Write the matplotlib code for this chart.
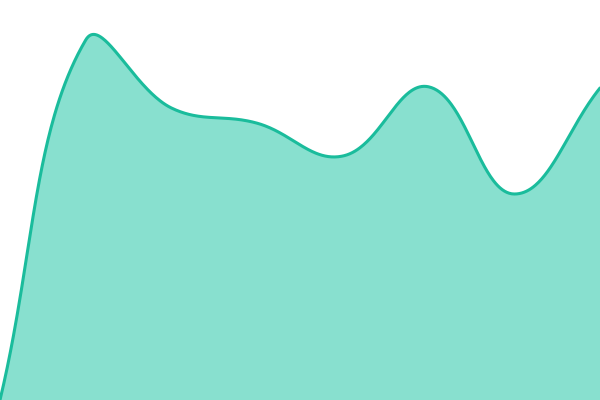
import matplotlib
matplotlib.use("Agg")
import matplotlib.pyplot as plt
import numpy as np

# values (y axis 0..100)
xs = [0, 1, 2, 3, 4, 5, 6, 7]
values = [0, 90.0, 73.0, 69.2, 61.0, 78.3, 51.5, 78.0]

LINE = "#1abc9c"
FILL = "#88e0cf"
TENSION = 0.4


def spline_points(pts, tension=TENSION, n=80):
    # distance-weighted cardinal spline, done in pixel space
    pts = np.asarray(pts, float)
    k = len(pts)
    ctrl_prev = np.zeros_like(pts)
    ctrl_next = np.zeros_like(pts)
    for i in range(k):
        p0 = pts[max(i - 1, 0)]
        p1 = pts[i]
        p2 = pts[min(i + 1, k - 1)]
        d01 = np.hypot(*(p1 - p0))
        d12 = np.hypot(*(p2 - p1))
        s01 = d01 / (d01 + d12) if d01 + d12 else 0
        s12 = d12 / (d01 + d12) if d01 + d12 else 0
        ctrl_prev[i] = p1 - tension * s01 * (p2 - p0)
        ctrl_next[i] = p1 + tension * s12 * (p2 - p0)
    t = np.linspace(0, 1, n)[:, None]
    segs = []
    for i in range(k - 1):
        a, b, c, d = pts[i], ctrl_next[i], ctrl_prev[i + 1], pts[i + 1]
        segs.append((1 - t) ** 3 * a + 3 * (1 - t) ** 2 * t * b
                    + 3 * (1 - t) * t ** 2 * c + t ** 3 * d)
    return np.vstack(segs)


fig = plt.figure(figsize=(6, 4), dpi=100)
ax = fig.add_axes([0, 0, 1, 1])
ax.set_xlim(0, 7)
ax.set_ylim(0, 100)
ax.axis("off")

pix = ax.transData.transform(np.column_stack([xs, values]))
curve = ax.transData.inverted().transform(spline_points(pix))
sx, sy = curve[:, 0], curve[:, 1]

ax.fill_between(sx, sy, 0, color=FILL, lw=0)
ax.plot(sx, sy, color=LINE, lw=2.2, solid_capstyle="round")
fig.savefig("out.png", dpi=100)
